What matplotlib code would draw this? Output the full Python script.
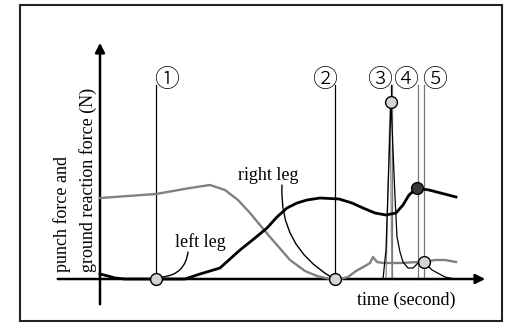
import matplotlib
matplotlib.use('Agg')
import matplotlib.pyplot as plt
from matplotlib.patches import Rectangle

plt.rcParams['font.family'] = ['Liberation Serif', 'Noto Sans CJK JP', 'DejaVu Sans']

# curves (time, force) in arbitrary schematic units
left_t = [0, 56, 90, 110, 125, 138, 150, 170, 190, 205, 217, 230, 240, 248, 256, 265,
          270, 273, 277, 283, 300, 318, 325, 335, 345, 356]
left_f = [81, 85, 91, 94, 89, 79, 66, 42, 19, 8, 3, 0, 0, 2, 8, 13,
          16, 22, 17, 16, 16, 17, 17, 19, 19, 17]

right_t = [0, 8, 15, 25, 85, 100, 120, 140, 155, 167, 177, 187, 197, 207, 220, 239, 252, 263,
           275, 286, 296, 303, 309, 317, 329, 356]
right_f = [5, 3, 1, 0, 0, 5, 11, 29, 41, 51, 62, 71, 76, 79, 81, 80, 76, 71,
           66, 64, 66, 74, 84, 91, 89, 82]

punch_t = [283, 286, 289, 291, 293, 295, 297, 300, 303, 308, 313, 318, 324, 332, 345, 355]
punch_f = [0, 29, 119, 177, 129, 82, 42, 27, 17, 11, 11, 16, 17, 9, 2, 0]

events = ['①', '②', '③', '④', '⑤']
event_t = [56, 235, 292, 318, 324]
event_lbl_x = [67, 225, 280, 306, 335]
event_color = ['k', 'k', '#777777', '#777777', '#777777']

fig = plt.figure(figsize=(5.12, 3.29), dpi=100)
ax = fig.add_axes([0, 0, 1, 1])
ax.set_xlim(-100, 412)
ax.set_ylim(-50, 279)
ax.axis('off')

# outer frame
ax.add_patch(Rectangle((-80, -42), 482, 316, fill=False, lw=1.5, ec='#222222'))

# axes arrows
ax.annotate('', xy=(0, 239), xytext=(0, -28),
            arrowprops=dict(arrowstyle='-|>', lw=1.8, color='k', mutation_scale=14))
ax.annotate('', xy=(388, 0), xytext=(-45, 0),
            arrowprops=dict(arrowstyle='-|>', lw=1.8, color='k', mutation_scale=14))

# event lines
for lab, t, lx, c in zip(events, event_t, event_lbl_x, event_color):
    ax.plot([t, t], [0, 194], color=c, lw=0.9, zorder=2)
    ax.text(lx, 199, lab, ha='center', va='center', fontsize=18,
            family=['Noto Sans CJK JP', 'DejaVu Sans'], fontweight='light')
ax.plot([291, 291], [177, 194], color='k', lw=0.9, zorder=3)

# spike edges (gray)
ax.plot([286, 290, 292], [0, 172, 0], color='#888888', lw=0.9, zorder=2)

ax.plot(left_t, left_f, color='#808080', lw=1.7, zorder=3)
ax.plot(right_t, right_f, color='k', lw=2.0, zorder=4)
ax.plot(punch_t, punch_f, color='k', lw=0.9, zorder=4)

# markers
ax.plot([56, 235, 291, 324], [0, 0, 177, 17], 'o', ms=8.5, mfc='#d4d4d4', mec='k',
        mew=1.0, zorder=6)
ax.plot([317], [91], 'o', ms=8.5, mfc='#3a3a3a', mec='k', mew=1.0, zorder=6)

# labels
ax.text(100, 37, 'left leg', ha='center', va='center', fontsize=13)
ax.text(168, 104, 'right leg', ha='center', va='center', fontsize=13)
ax.annotate('', xy=(62, 2), xytext=(88, 27),
            arrowprops=dict(arrowstyle='-', lw=1.0, color='k',
                            connectionstyle='arc3,rad=-0.4', shrinkA=0, shrinkB=0))
ax.annotate('', xy=(231, 2), xytext=(182, 94),
            arrowprops=dict(arrowstyle='-', lw=1.0, color='k',
                            connectionstyle='arc3,rad=0.3', shrinkA=0, shrinkB=0))
ax.text(306, -21, 'time (second)', ha='center', va='center', fontsize=13)
ax.text(-38, 7, 'punch force and', rotation=90, ha='center', va='bottom', fontsize=13)
ax.text(-12, 7, 'ground reaction force (N)', rotation=90, ha='center', va='bottom',
        fontsize=13)

fig.savefig('out.png', dpi=100)
